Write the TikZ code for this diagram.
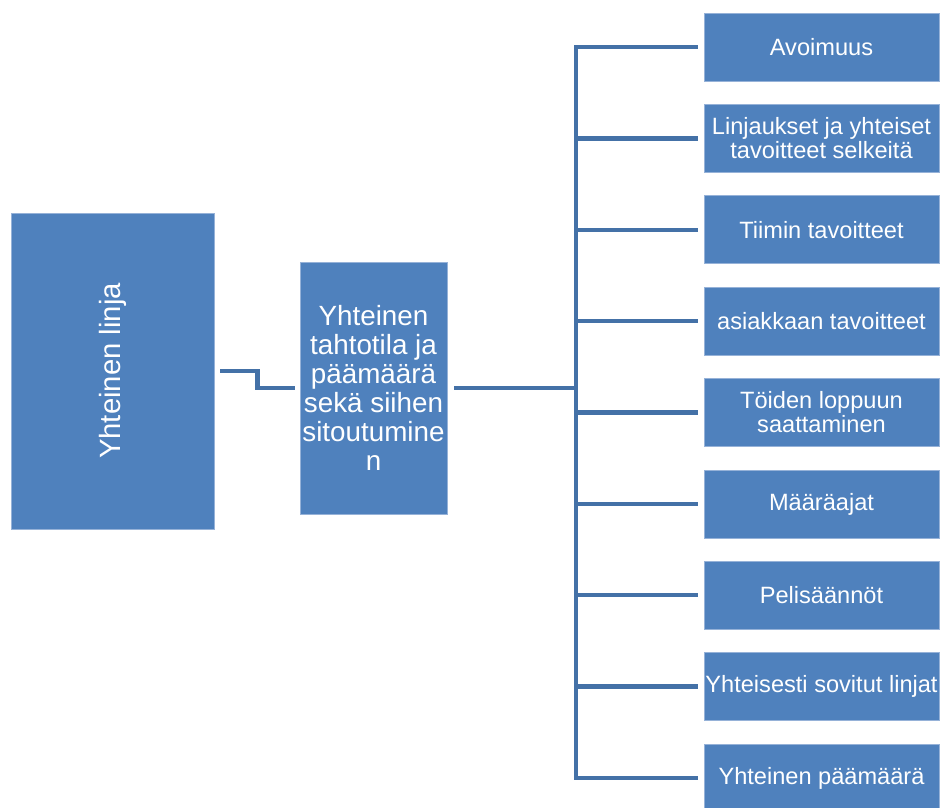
\documentclass[tikz,border=0pt]{standalone}
\usepackage{fontspec}
\setmainfont{Liberation Sans}
\definecolor{boxblue}{RGB}{79,129,189}
\definecolor{lineblue}{RGB}{68,113,167}
\definecolor{edgeblue}{RGB}{150,178,216}
\tikzset{
  blk/.style={rectangle, fill=boxblue, draw=edgeblue, line width=0.8pt, inner sep=0pt, text=white, align=center},
  rbox/.style={blk, minimum width=235pt, minimum height=68pt, font=\fontsize{23.6}{24}\selectfont},
  conn/.style={draw=lineblue, line width=4.5pt, line join=miter, line cap=butt}
}
\begin{document}
\begin{tikzpicture}[x=1pt,y=-1pt]
\useasboundingbox (0,0) rectangle (943,807);
\clip (0,0) rectangle (943,807);
\node[blk, minimum width=203pt, minimum height=316pt] (L) at (112.5,371) {};
\node[rotate=90, text=white, font=\fontsize{29.3}{30}\selectfont] (Lt) at (L.center) {Yhteinen linja};
\node[blk, minimum width=147pt, minimum height=252pt, font=\fontsize{27.8}{29}\selectfont] (M) at (373.5,388)
  {Yhteinen\\tahtotila ja\\päämäärä\\sekä siihen\\sitoutumine\\n};
\node[rbox] (R1) at (821.5,47) {Avoimuus};
\node[rbox] (R2) at (821.5,138.4) {Linjaukset ja yhteiset\\tavoitteet selkeitä};
\node[rbox] (R3) at (821.5,229.8) {Tiimin tavoitteet};
\node[rbox] (R4) at (821.5,321.1) {asiakkaan tavoitteet};
\node[rbox] (R5) at (821.5,412.5) {Töiden loppuun\\saattaminen};
\node[rbox] (R6) at (821.5,503.9) {Määräajat};
\node[rbox] (R7) at (821.5,595.2) {Pelisäännöt};
\node[rbox] (R8) at (821.5,686.6) {Yhteisesti sovitut linjat};
\node[rbox] (R9) at (821.5,778) {Yhteinen päämäärä};
\draw[conn] ([xshift=6pt]L.east) -- ++(37,0) |- ([xshift=-5pt]M.west);
\coordinate (T) at (576,388);
\draw[conn] ([xshift=7pt]M.east) -- (T);
\foreach \i in {1,...,9}{
  \draw[conn] (T) |- ([xshift=-6pt]R\i.west);
}
\end{tikzpicture}
\end{document}
